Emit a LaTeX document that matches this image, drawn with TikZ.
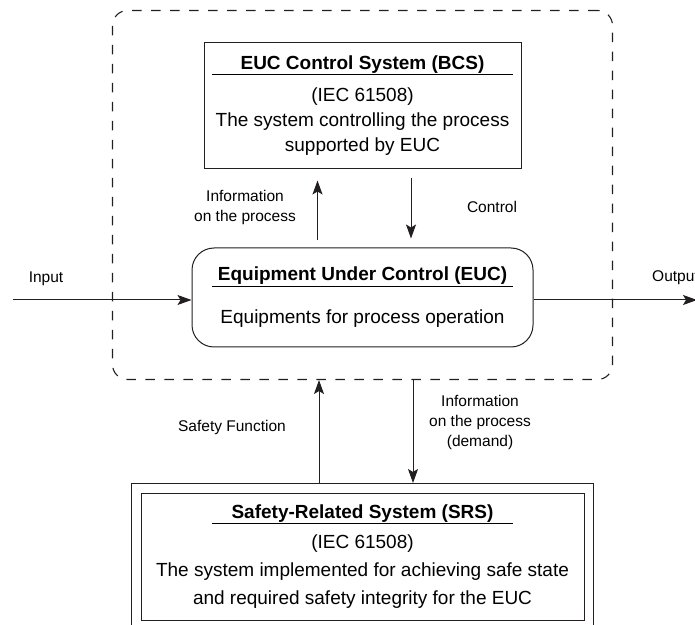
\documentclass[tikz,border=0pt]{standalone}
\usepackage{fontspec}
\setmainfont{Liberation Sans}
\usetikzlibrary{arrows.meta,calc,positioning,fit}
\definecolor{ink}{HTML}{231F20}
\tikzset{>={Stealth[length=14pt,width=10pt,inset=3pt]}}
\tikzset{
  sysbox/.style={draw=ink, line width=1pt, inner sep=0pt, align=center, font=\fontsize{19}{25}\selectfont},
  eucbox/.style={sysbox, rounded corners=22pt},
  ctrlbox/.style={draw=ink, line width=1.1pt, dash pattern=on 9.5pt off 9.5pt, rounded corners=15pt},
  arrow/.style={->, draw=ink, line width=1pt},
  lbl/.style={align=center, font=\fontsize{15.5}{20}\selectfont},
}
\begin{document}
\begin{tikzpicture}[x=1pt,y=1pt]
\useasboundingbox (0,0) rectangle (695,624);

\node[sysbox, minimum width=317pt, minimum height=126pt] (bcs) at (362.5,518)
  {\textbf{EUC Control System (BCS)}\\[-20pt]\rule{301pt}{1pt}\\[2pt](IEC 61508)\\The system controlling the process\\supported by EUC};
\node[eucbox, below=78pt of bcs, minimum width=341pt, minimum height=99pt] (euc)
  {\textbf{Equipment Under Control (EUC)}\\[-19.3pt]\rule{301pt}{1pt}\\[12.3pt]Equipments for process operation};
\node[ctrlbox, fit=(bcs)(euc), inner xsep=79pt, inner ysep=32pt] (ctrl) {};

\node[sysbox, below=145pt of euc, minimum width=443pt, minimum height=127pt] (srs)
  {\textbf{Safety-Related System (SRS)}\\[-20pt]\rule{301pt}{1pt}\\[-0.7pt](IEC 61508)\\[3pt]The system implemented for achieving safe state\\[3pt]and required safety integrity for the EUC};
\node[draw=ink, line width=1pt, inner sep=0pt, fit={($(srs.north west)+(-9,9)$) ($(srs.south east)+(9,-5)$)}] (srsframe) {};

% input / output
\coordinate (in) at (13,324);
\coordinate (out) at (697,324);
\draw[arrow] (in) -- (in -| euc.west);
\draw[arrow] (out -| euc.east) -- (out);
\node[lbl] (inlbl) at (46,345) {Input};
\node[lbl, anchor=west, inner sep=0pt] (outlbl) at (652,346) {Output};

% BCS <-> EUC
\draw[arrow, shorten <=7pt, shorten >=11pt] ([xshift=-45pt]euc.north) -- ([xshift=-45pt]bcs.south);
\draw[arrow, shorten <=9pt, shorten >=9pt] ([xshift=48.5pt]bcs.south) -- ([xshift=48.5pt]euc.north);
\node[lbl] (infolbl) at (245,417) {Information\\on the process};
\node[lbl] (ctrllbl) at (492,417) {Control};

% SRS <-> controlled system
\draw[arrow] ([xshift=-43.5pt]srsframe.north) -- ([xshift=-43.5pt]ctrl.south);
\draw[arrow] ([xshift=50.5pt]ctrl.south) -- ([xshift=50.5pt]srsframe.north);
\node[lbl] (sflbl) at (232,197) {Safety Function};
\node[lbl] (demlbl) at (480,202) {Information\\on the process\\(demand)};
\end{tikzpicture}
\end{document}
